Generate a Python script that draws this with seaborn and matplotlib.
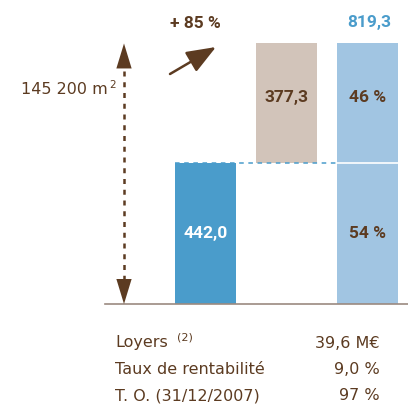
import matplotlib
matplotlib.use("Agg")
import matplotlib.pyplot as plt
import seaborn as sns
import pandas as pd

# données
categories = ["Existant", "Acquisitions", "Total"]
existant = 442.0
acquisitions = 377.3
total = 819.3
part_existant = 54
part_acquis = 46
hausse = 85
surface = "145 200 m"
table_labels = ["Loyers", "Taux de rentabilité", "T. O. (31/12/2007)"]
table_values = ["39,6 M€", "9,0 %", "97 %"]

brun = "#5c3b21"
bleu = "#4a9ccb"
bleu_clair = "#a1c5e2"
beige = "#d2c4ba"

sns.set_style("white")
plt.rcParams["font.family"] = ["DejaVu Sans"]
gras = dict(family=["Roboto", "DejaVu Sans"], fontweight="bold", fontsize=12.5)

W, H = 408, 405
fig = plt.figure(figsize=(W / 100, H / 100), dpi=100)

def fx(x):
    return x / W

def fy(y):
    return 1 - y / H

# axes : base a y=304 px, gauche a x=105 px
px_per_unit = 0.318
ax = fig.add_axes([fx(105), fy(304), fx(408 - 105), 304 / H])

bas = pd.DataFrame({"cat": categories,
                    "val": [existant, 0, total * part_existant / 100]})
sns.barplot(data=bas, x="cat", y="val", hue="cat",
            palette=[bleu, "white", bleu_clair], saturation=1,
            width=0.753, linewidth=0, legend=False, ax=ax)
ax.bar(1, acquisitions, bottom=existant, width=0.753, color=beige, linewidth=0)
ax.bar(2, total * part_acquis / 100, bottom=total * part_existant / 100,
       width=0.753, color=bleu_clair, linewidth=0)
ax.hlines(total * part_existant / 100, 2 - 0.3765, 2 + 0.3765, color="white", lw=1.2)
ax.hlines(existant, -0.3765, 2 - 0.3765, color=bleu, lw=1.1, linestyles=(0, (3, 3)))

ax.set_ylim(0, 304 / px_per_unit)
ax.set_xlim(-100.5 / 81, (408 - 205.5) / 81)

for s in ["top", "left", "right"]:
    ax.spines[s].set_visible(False)
ax.spines["bottom"].set_color("#9b8a80")
ax.spines["bottom"].set_linewidth(1.2)
ax.set_xticks([])
ax.set_yticks([])
ax.set_xlabel("")
ax.set_ylabel("")

# fleche double en pointille (surface)
xa = (124 - 205.5) / 81
ax.plot([xa, xa], [40, total - 40], color=brun, lw=1.8, ls=(0, (2, 2.3)), clip_on=False)
head = dict(arrowstyle="-|>,head_length=1.8,head_width=0.55", color=brun,
            lw=0, shrinkA=0, shrinkB=0, mutation_scale=10)
ax.annotate("", xy=(xa, total), xytext=(xa, total - 80), arrowprops=head)
ax.annotate("", xy=(xa, 0), xytext=(xa, 80), arrowprops=head)
fig.text(fx(108), fy(89), surface, ha="right", va="center", color=brun, fontsize=11.5)
fig.text(fx(109), fy(85), "2", ha="left", va="center", color=brun, fontsize=7.5)

# fleche de hausse
fig.add_artist(matplotlib.patches.FancyArrowPatch(
    (fx(170), fy(74)), (fx(216), fy(47)), transform=fig.transFigure,
    arrowstyle="-|>,head_length=1.8,head_width=0.7", mutation_scale=10,
    color=brun, lw=1.8, shrinkA=0, shrinkB=0))
fig.text(fx(195), fy(24), f"+ {hausse} %", ha="center", va="center", color=brun, **gras)

# étiquettes des barres
ax.text(0, existant / 2, f"{existant:.1f}".replace(".", ","), ha="center", va="center",
        color="white", **gras)
ax.text(1, existant + acquisitions * 0.546, f"{acquisitions:.1f}".replace(".", ","),
        ha="center", va="center", color=brun, **gras)
ax.text(2, existant + acquisitions * 0.546, f"{part_acquis} %", ha="center", va="center",
        color=brun, **gras)
ax.text(2, existant / 2, f"{part_existant} %", ha="center", va="center",
        color=brun, **gras)
fig.text(fx(369), fy(23), f"{total:.1f}".replace(".", ","), ha="center", va="center",
         color=bleu, **gras)

# tableau
rows_y = [343, 370, 396]
for lab, val, y in zip(table_labels, table_values, rows_y):
    fig.text(fx(115), fy(y), lab, ha="left", va="center", color=brun, fontsize=11.5)
    fig.text(fx(380), fy(y), val, ha="right", va="center", color=brun, fontsize=11.5)
fig.text(fx(177), fy(rows_y[0] - 5), "(2)", ha="left", va="center",
         color=brun, fontsize=8)

fig.savefig("out.png", dpi=100)
